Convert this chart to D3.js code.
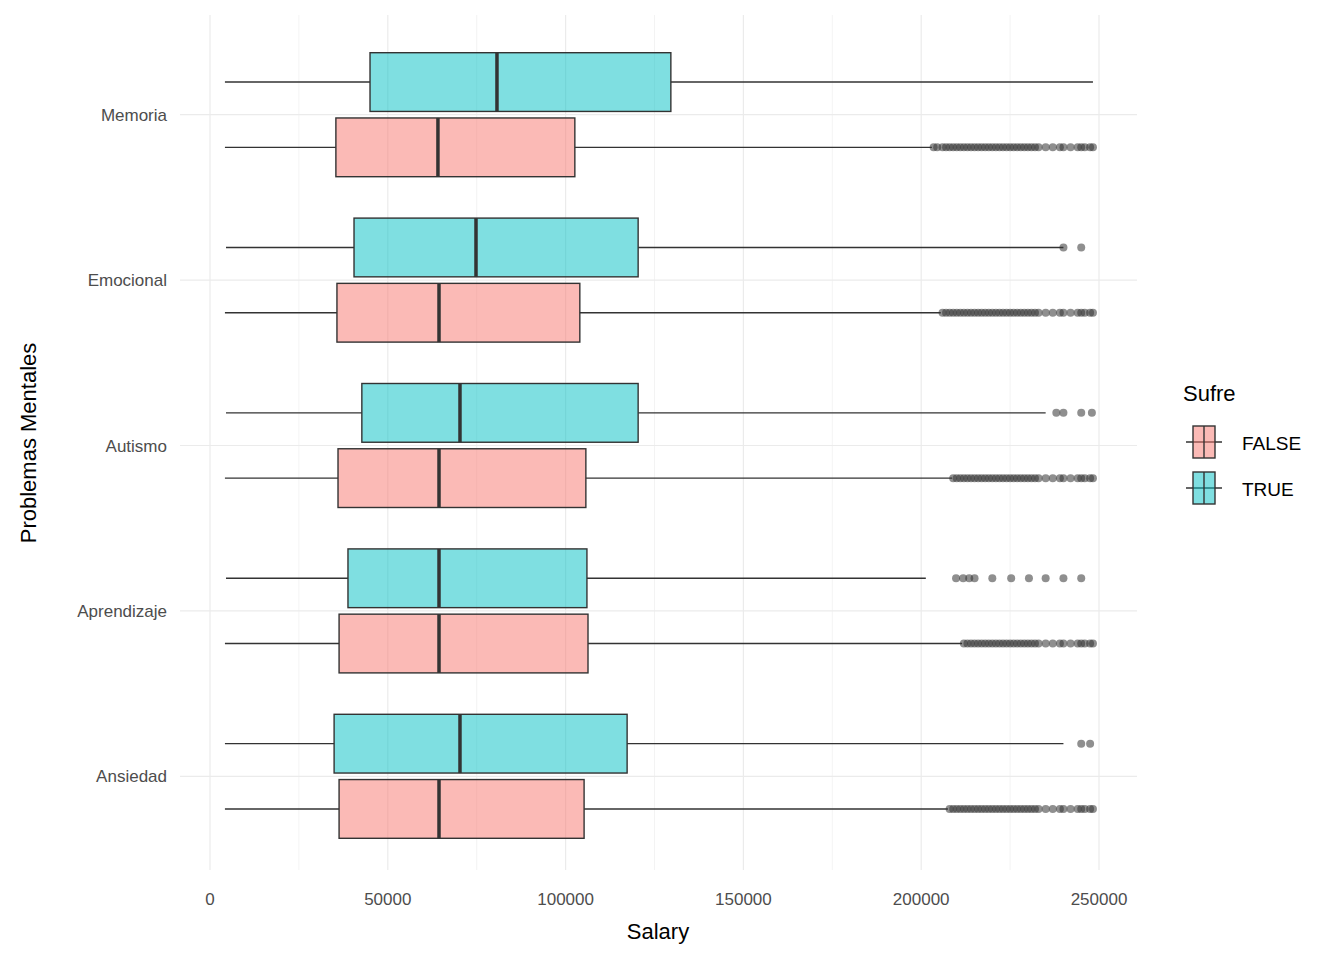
<!DOCTYPE html>
<html><head><meta charset="utf-8">
<script src="https://cdn.jsdelivr.net/npm/d3@7"></script>
<style>body{margin:0;background:#fff;font-family:Arial,"Liberation Sans",sans-serif}</style>
</head><body>
<script>
// datos
var categories = ["Memoria", "Emocional", "Autismo", "Aprendizaje", "Ansiedad"];
var groups = ["FALSE", "TRUE"];
var xTicks = [0, 50000, 100000, 150000, 200000, 250000];

// [min, q1, mediana, q3, max] por categoria
var statsTrue = [
    [4200, 45000, 80700, 129600, 248300],
    [4500, 40500, 74800, 120400, 240000],
    [4500, 42700, 70300, 120400, 235000],
    [4500, 38800, 64400, 106000, 201300],
    [4200, 34900, 70300, 117300, 240000]
];
var statsFalse = [
    [4200, 35400, 64100, 102600, 203000],
    [4200, 35700, 64400, 104000, 205500],
    [4200, 36000, 64400, 105700, 208700],
    [4200, 36300, 64400, 106300, 211500],
    [4200, 36300, 64400, 105200, 207500]
];
var outTrue = [
    [],
    [240000, 245000],
    [238000, 240000, 245000, 248000],
    [209800, 211800, 213500, 215000, 220000, 225300, 230300, 235000, 240000, 245000],
    [245000, 247500]
];
// cola densa de valores atipicos (grupo FALSE)
var denseTail = [203500, 204500, 206000, 207000, 208000, 209000, 210000, 211000, 212000, 213000,
    214000, 215000, 216000, 217000, 218000, 219000, 220000, 221000, 222000, 223000, 224000,
    225000, 226000, 227000, 228000, 229000, 230000, 231000, 232000, 233000, 235000, 237000,
    239000, 240000, 242000, 244000, 245000, 246000, 247500, 248300];

var W = 1344, H = 960;
var svg = d3.select("body").append("svg").attr("width", W).attr("height", H);

var x = d3.scaleLinear().domain([0, 250000]).range([210, 1099]);
var y = d3.scaleBand().domain(categories).range([32, 859]).padding(0);
var sub = d3.scaleBand().domain(["TRUE", "FALSE"]).range([-62, 62]).paddingInner(0.1);
var fill = {"FALSE": "rgba(248,118,109,0.5)", "TRUE": "rgba(0,191,196,0.5)"};

// cuadricula
var minor = [25000, 75000, 125000, 175000, 225000];
svg.selectAll(".gmin").data(minor).enter().append("line")
    .attr("x1", d => x(d)).attr("x2", d => x(d)).attr("y1", 15).attr("y2", 870)
    .attr("stroke", "#ebebeb").attr("stroke-width", 0.6);
svg.selectAll(".gmaj").data(xTicks).enter().append("line")
    .attr("x1", d => x(d)).attr("x2", d => x(d)).attr("y1", 15).attr("y2", 870)
    .attr("stroke", "#ebebeb").attr("stroke-width", 1.2);
svg.selectAll(".gy").data(categories).enter().append("line")
    .attr("x1", 180).attr("x2", 1137)
    .attr("y1", d => y(d) + y.bandwidth() / 2).attr("y2", d => y(d) + y.bandwidth() / 2)
    .attr("stroke", "#ebebeb").attr("stroke-width", 1.2);

function drawBox(cat, grp, s, outs) {
    var cy = y(cat) + y.bandwidth() / 2 + sub(grp) + sub.bandwidth() / 2;
    var h = sub.bandwidth();
    var g = svg.append("g");
    g.append("line").attr("x1", x(s[0])).attr("x2", x(s[1])).attr("y1", cy).attr("y2", cy).attr("stroke", "#333").attr("stroke-width", 1.4);
    g.append("line").attr("x1", x(s[3])).attr("x2", x(s[4])).attr("y1", cy).attr("y2", cy).attr("stroke", "#333").attr("stroke-width", 1.4);
    g.append("rect").attr("x", x(s[1])).attr("width", x(s[3]) - x(s[1]))
        .attr("y", cy - h / 2).attr("height", h)
        .attr("fill", fill[grp]).attr("stroke", "#333").attr("stroke-width", 1.4);
    g.append("line").attr("x1", x(s[2])).attr("x2", x(s[2])).attr("y1", cy - h / 2).attr("y2", cy + h / 2)
        .attr("stroke", "#333").attr("stroke-width", 3.5);
    g.selectAll("circle").data(outs).enter().append("circle")
        .attr("cx", d => x(d)).attr("cy", cy).attr("r", 4)
        .attr("fill", "rgba(51,51,51,0.55)");
}
categories.forEach(function (c, i) {
    drawBox(c, "TRUE", statsTrue[i], outTrue[i]);
    drawBox(c, "FALSE", statsFalse[i], denseTail.filter(v => v > statsFalse[i][4]));
});

// ejes
svg.selectAll(".xt").data(xTicks).enter().append("text")
    .attr("x", d => x(d)).attr("y", 905).attr("text-anchor", "middle")
    .attr("font-size", 17).attr("fill", "#4d4d4d").text(d => d);
svg.selectAll(".yt").data(categories).enter().append("text")
    .attr("x", 167).attr("y", d => y(d) + y.bandwidth() / 2 + 6).attr("text-anchor", "end")
    .attr("font-size", 17).attr("fill", "#4d4d4d").text(d => d);
svg.append("text").attr("x", 658).attr("y", 939).attr("text-anchor", "middle")
    .attr("font-size", 22).attr("fill", "#000").text("Salary");
svg.append("text").attr("transform", "translate(36,443) rotate(-90)").attr("text-anchor", "middle")
    .attr("font-size", 22).attr("fill", "#000").text("Problemas Mentales");

// leyenda
svg.append("text").attr("x", 1183).attr("y", 401).attr("font-size", 22).text("Sufre");
groups.forEach(function (gname, i) {
    var ty = 426 + i * 46;
    var lg = svg.append("g");
    lg.append("line").attr("x1", 1186).attr("x2", 1222).attr("y1", ty + 16).attr("y2", ty + 16).attr("stroke", "#333").attr("stroke-width", 1.4);
    lg.append("rect").attr("x", 1193).attr("y", ty).attr("width", 22).attr("height", 32)
        .attr("fill", fill[gname]).attr("stroke", "#333").attr("stroke-width", 1.4);
    lg.append("line").attr("x1", 1204).attr("x2", 1204).attr("y1", ty).attr("y2", ty + 32).attr("stroke", "#333").attr("stroke-width", 1.4);
    lg.append("text").attr("x", 1242).attr("y", ty + 24).attr("font-size", 19).text(gname);
});
</script>
</body></html>
